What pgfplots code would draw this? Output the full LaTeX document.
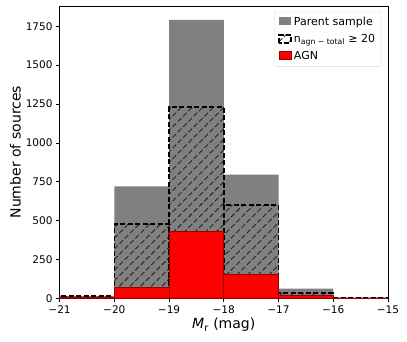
\documentclass[border=0pt]{standalone}
\usepackage{fontspec}
\setmainfont{DejaVu Sans}
\usepackage{pgfplots}
\pgfplotsset{compat=1.18}
\usetikzlibrary{patterns.meta}

\definecolor{parentgray}{RGB}{128,128,128}
\definecolor{agnedge}{RGB}{150,0,0}

\begin{document}
\begin{tikzpicture}
\begin{axis}[
  scale only axis,
  width=328pt, height=292pt,
  xmin=-21, xmax=-15,
  ymin=0, ymax=1880,
  xtick={-21,-20,-19,-18,-17,-16,-15},
  xticklabels={−21,−20,−19,−18,−17,−16,−15},
  ytick={0,250,500,750,1000,1250,1500,1750},
  /pgf/number format/assume math mode=true,
  /pgf/number format/1000 sep={},
  tick label style={font=\fontsize{10.5}{12}\selectfont},
  tick align=outside, xtick pos=left, ytick pos=left,
  major tick length=3.5pt,
  tick style={black, line width=0.6pt},
  axis line style={line width=0.6pt},
  xlabel={{\itshape M}\textsubscript{r} (mag)},
  ylabel={Number of sources},
  label style={font=\fontsize{14}{16}\selectfont},
  ylabel style={yshift=-2pt},
  xlabel style={yshift=2pt},
  legend cell align=left,
  legend image code/.code={
    \path[#1, sharp corners] (0pt,-3.5pt) rectangle (12pt,4.5pt);},
  legend style={at={(0.98,0.98)}, anchor=north east,
    draw=black!15, rounded corners=2pt, font=\fontsize{11}{13}\selectfont,
    row sep=3.5pt, inner xsep=4pt, inner ysep=3pt,
    nodes={inner sep=2pt}},
]
\addplot[ybar interval, fill=parentgray, draw=none]
  coordinates {(-21,15) (-20,720) (-19,1790) (-18,795) (-17,62) (-16,6) (-15,6)};
\addlegendentry{Parent sample}
\addplot[ybar interval, draw=black, line width=1.5pt,
  dash pattern=on 5pt off 2.5pt,
  pattern={Lines[angle=45,distance=7.5pt,line width=0.9pt]}, pattern color=black!85]
  coordinates {(-21,15) (-20,477) (-19,1230) (-18,600) (-17,35) (-16,4) (-15,4)};
\addlegendentry{n\textsubscript{agn − total} ≥ 20}
\addplot[ybar interval, fill=red, draw=agnedge, line width=1pt]
  coordinates {(-21,5) (-20,70) (-19,432) (-18,151) (-17,18) (-16,2) (-15,2)};
\addlegendentry{AGN}
\end{axis}
\path ([shift={(-59.5pt,-43.5pt)}]current axis.south west)
  rectangle ([shift={(19pt,6pt)}]current axis.north east);
\end{tikzpicture}
\end{document}
